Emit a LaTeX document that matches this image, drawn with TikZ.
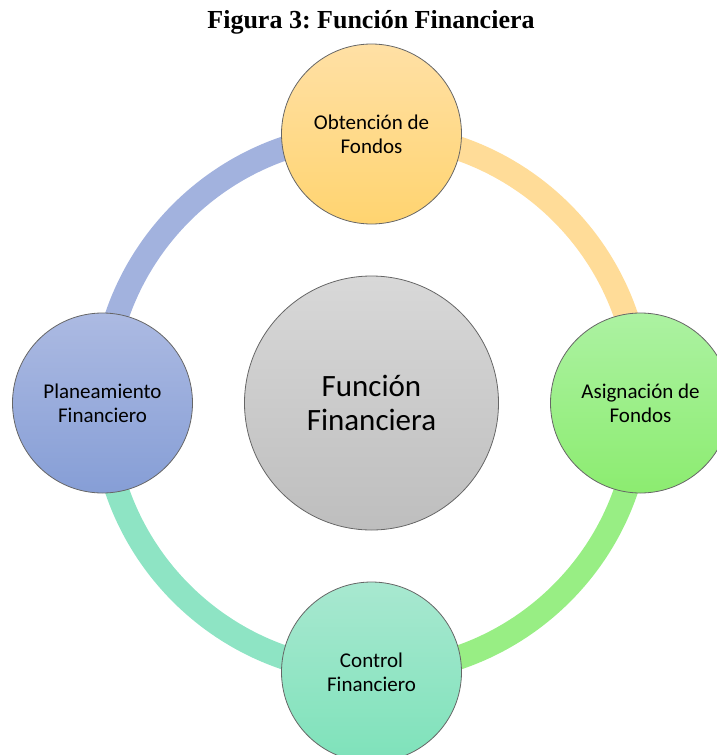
\documentclass[tikz,border=0pt]{standalone}
\usepackage{fontspec}
\setmainfont{Liberation Serif}
\newfontfamily\bodysans{Carlito}
\usetikzlibrary{backgrounds}
\frenchspacing
\begin{document}
\begin{tikzpicture}[x=1pt,y=-1pt,
  bubble/.style={circle, draw=black!60, line width=0.8pt, inner sep=0pt,
    minimum size=180pt, align=center, font=\bodysans\fontsize{21}{24}\selectfont},
  hub/.style={bubble, minimum size=254pt, font=\bodysans\fontsize{31}{34}\selectfont,
    top color=hubT, bottom color=hubB},
  ring/.style={line width=24pt}
]
\definecolor{orT}{RGB}{255,224,165}\definecolor{orB}{RGB}{255,212,112}
\definecolor{grT}{RGB}{172,242,162}\definecolor{grB}{RGB}{140,236,112}
\definecolor{blT}{RGB}{172,186,226}\definecolor{blB}{RGB}{134,158,214}
\definecolor{tlT}{RGB}{168,232,208}\definecolor{tlB}{RGB}{126,226,186}
\definecolor{hubT}{RGB}{216,216,216}\definecolor{hubB}{RGB}{190,190,190}
\definecolor{orArc}{RGB}{255,220,152}
\definecolor{grArc}{RGB}{152,238,132}
\definecolor{tlArc}{RGB}{142,228,196}
\definecolor{blArc}{RGB}{162,178,222}

\useasboundingbox (0,0) rectangle (716,755);

\node[font=\bfseries\fontsize{26}{30}\selectfont] (title) at (371,22) {Figura 3: Función Financiera};

\coordinate (c) at (371.5,403);
\node[bubble, top color=orT, bottom color=orB] (obt) at (371.5,134) {Obtención de\\Fondos};
\node[bubble, top color=grT, bottom color=grB] (asg) at (640.5,403) {Asignación de\\Fondos};
\node[bubble, top color=tlT, bottom color=tlB] (ctl) at (371.5,672) {Control\\Financiero};
\node[bubble, top color=blT, bottom color=blB] (pln) at (102.5,403) {Planeamiento\\Financiero};
\node[hub] (fun) at (c) {Función\\Financiera};

% ring segments behind the bubbles, clockwise from bubble to bubble
\begin{scope}[on background layer]
\draw[ring, orArc] (obt.center) arc[start angle=-90, end angle=0, radius=269];
\draw[ring, grArc] (asg.center) arc[start angle=0, end angle=90, radius=269];
\draw[ring, tlArc] (ctl.center) arc[start angle=90, end angle=180, radius=269];
\draw[ring, blArc] (pln.center) arc[start angle=180, end angle=270, radius=269];
\end{scope}
\end{tikzpicture}
\end{document}
